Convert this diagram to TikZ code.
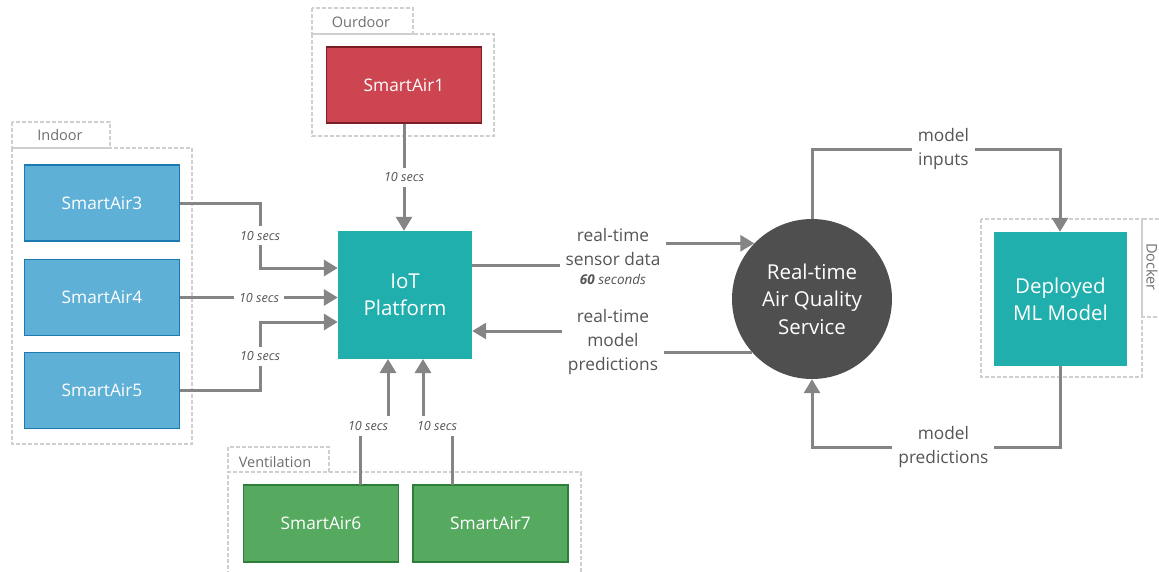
\documentclass[tikz,border=0pt]{standalone}
\usepackage{fontspec}
\setmainfont{Open Sans}
\usetikzlibrary{arrows.meta}
\definecolor{airblue}{HTML}{5EB0D6}
\definecolor{airblueline}{HTML}{1B7BB0}
\definecolor{airred}{HTML}{CC4550}
\definecolor{airredline}{HTML}{7A1E26}
\definecolor{airgreen}{HTML}{55AA60}
\definecolor{airgreenline}{HTML}{2F7D3B}
\definecolor{tealbox}{HTML}{21AFAD}
\definecolor{svcgray}{HTML}{4F4F4F}
\definecolor{wire}{HTML}{858585}
\definecolor{grpline}{HTML}{CFCFCF}
\definecolor{txtgray}{HTML}{555555}

\begin{document}
\begin{tikzpicture}[x=1pt,y=-1pt,
  sensor/.style={draw,line width=1.5pt,minimum width=155pt,minimum height=76pt,
    text=white,font=\fontsize{17.3}{20}\selectfont},
  bigbox/.style={fill=tealbox,text=white,align=center,
    font=\fontsize{20.5}{27}\selectfont},
  grp/.style={draw=grpline,line width=1.2pt,dash pattern=on 4pt off 2pt},
  grptxt/.style={text=txtgray!85,font=\fontsize{14.5}{16}\selectfont},
  flow/.style={draw=wire,line width=3pt,-{Triangle[length=14pt,width=16pt]}},
  secs/.style={fill=white,inner sep=5pt,text=txtgray,font=\fontsize{12.6}{14}\selectfont\itshape},
  flowtxt/.style={fill=white,inner xsep=6pt,inner ysep=2pt,align=center,text=txtgray,
    font=\fontsize{17.3}{24}\selectfont}]
  \useasboundingbox (0,0) rectangle (1159,571);

  % groups
  \draw[grp] (12,122) rectangle (110,148) (12,148) rectangle (192,444);
  \node[grptxt] (gin) at (60,135) {Indoor};
  \draw[grp] (312,8) rectangle (413,34) (312,34) rectangle (494,136);
  \node[grptxt] (gout) at (361,22) {Ourdoor};
  \draw[grp] (228,447) rectangle (329,472) (228,575) -- (228,472) -- (581,472) -- (581,575);
  \node[grptxt] (gven) at (275,462) {Ventilation};
  \draw[grp] (981,219) rectangle (1142,377) (1165,219) -- (1142,219) -- (1142,317) -- (1165,317);
  \node[grptxt,rotate=-90] (gdock) at (1152,267) {Docker};

  % sensors
  \foreach \n/\y in {3/203,4/297.5,5/390.5}
    \node[sensor,fill=airblue,draw=airblueline] (sa\n) at (102,\y) {SmartAir\n};
  \node[sensor,fill=airred,draw=airredline] (sa1) at (404,85) {SmartAir1};
  \node[sensor,fill=airgreen,draw=airgreenline,minimum height=77pt] (sa6) at (321,523.5) {SmartAir6};
  \node[sensor,fill=airgreen,draw=airgreenline,minimum height=77pt] (sa7) at (490.5,523.5) {SmartAir7};

  \node[bigbox,minimum width=134pt,minimum height=128pt] (iot) at (405,295) {IoT\\Platform};
  \node[circle,fill=svcgray,text=white,align=center,minimum size=160pt,
    font=\fontsize{20.5}{27.5}\selectfont] (aqs) at (812,299) {Real-time\\Air Quality\\Service};
  \node[bigbox,minimum width=133pt,minimum height=134pt] (ml) at (1060.5,299) {Deployed\\ML Model};

  % sensor links
  \draw[flow] (sa1.south) -- node[secs] (l1) {10 secs} (sa1.south |- iot.north);
  \draw[flow] (sa3.east) -- (260,203) -- node[secs] (l3) {10 secs} (260,268) -- (iot.west |- 0,268);
  \draw[flow] (sa4.east) -- node[secs,pos=0.5] (l4) {10 secs} (iot.west |- sa4.east);
  \draw[flow] (sa5.east) -- (260,390.5) -- node[secs] (l5) {10 secs} (260,322) -- (iot.west |- 0,322);
  \draw[flow] (360,485) -- (360,426) -- (388,426) -- (388,359);
  \draw[flow] (452,485) -- (452,426) -- (423,426) -- (423,359);
  \node[secs] (l6) at (368,426) {10 secs};
  \node[secs] (l7) at (437,426) {10 secs};

  % platform <-> service
  \draw[flow] (iot.east |- 0,265) -- (613,265) |- (aqs.136);
  \node[flowtxt] (tsens) at (613,256) {real-time\\sensor data\\[-5pt]
    {\fontsize{13.5}{15}\selectfont\itshape\textbf{60} seconds}};
  \draw[flow] (aqs.222.5) -| (613,331) -- (iot.east |- 0,331);
  \node[flowtxt] (tpred) at (613,342) {real-time\\model\\predictions};

  % service <-> model
  \draw[flow] (aqs.north) -- (812,149) -- node[flowtxt,pos=0.53] (tin) {model\\inputs} (1060,149) -- (ml.north -| 1060,0);
  \draw[flow] (ml.south -| 1060,0) -- (1060,447) -- node[flowtxt,pos=0.47] (tout) {model\\predictions} (812,447) -- (aqs.south);
\end{tikzpicture}
\end{document}
